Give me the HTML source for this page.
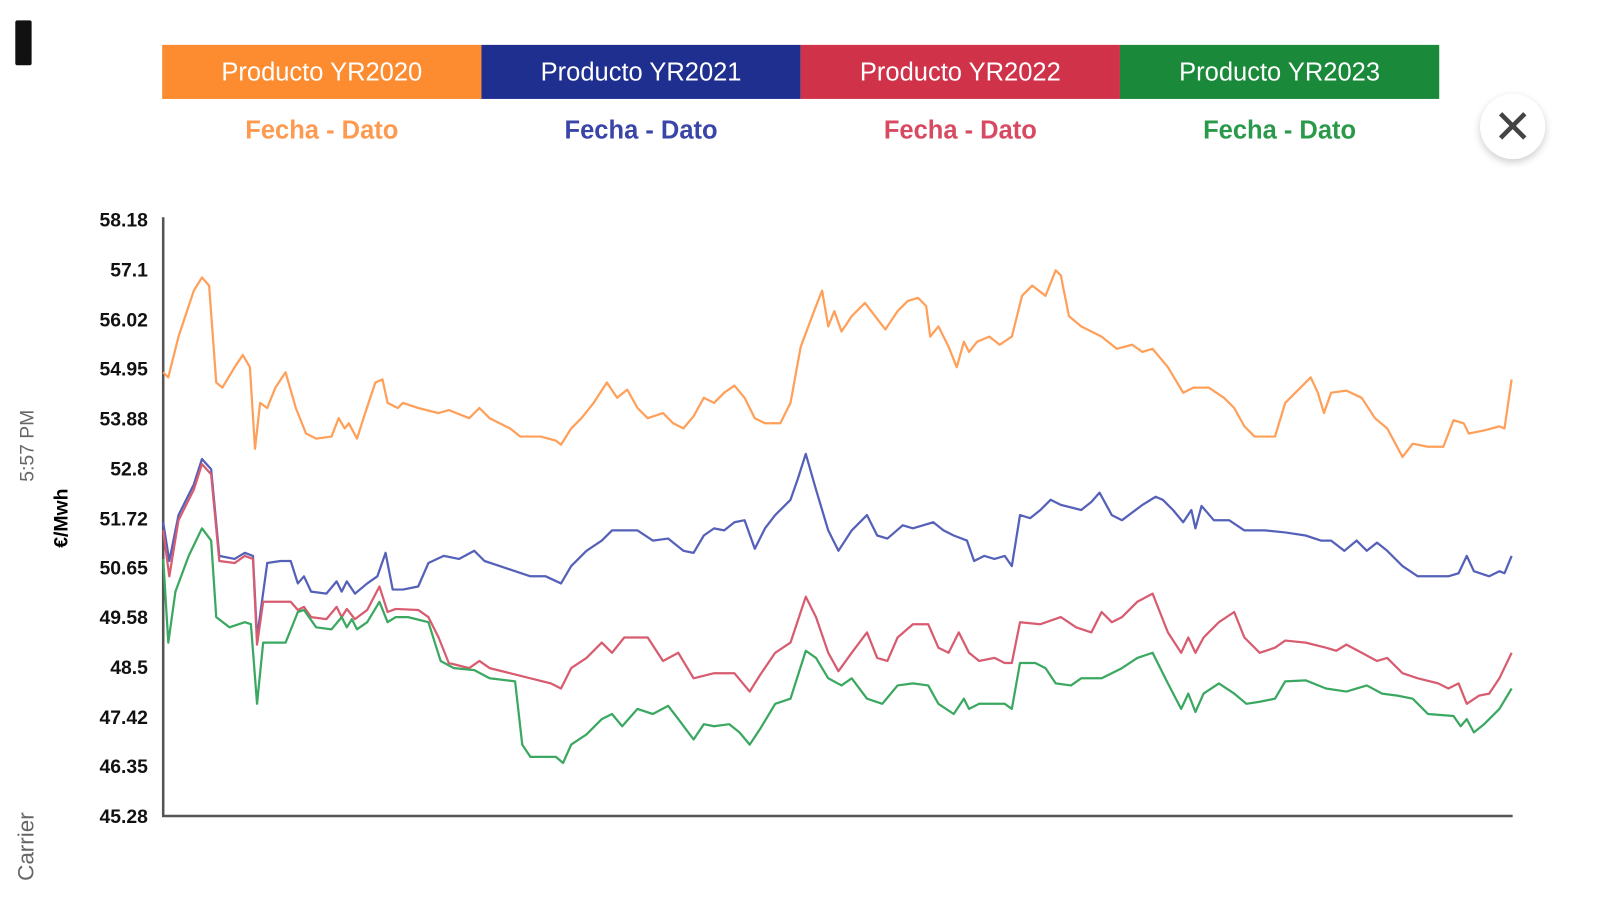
<!DOCTYPE html>
<html><head><meta charset="utf-8"><style>
body{margin:0;width:1599px;height:900px;background:#fff;overflow:hidden;position:relative;font-family:"Liberation Sans",sans-serif}
#w{position:absolute;left:0;top:0;width:1599px;height:900px;transform:scale(1.02);transform-origin:0 0}
.bar{position:absolute;top:44px;height:53px;width:313px;color:#fff;font-size:25px;text-align:center;line-height:55px}
.sub{position:absolute;top:114px;width:313px;text-align:center;font-size:25px;font-weight:bold}
</style></head><body><div id="w">
<div style="position:absolute;left:15px;top:20px;width:16px;height:44px;background:#111;border-radius:2px"></div>
<div class="bar" style="left:159px;background:#fd8c30">Producto YR2020</div>
<div class="bar" style="left:472px;background:#1f2f8f">Producto YR2021</div>
<div class="bar" style="left:785px;background:#d0324a">Producto YR2022</div>
<div class="bar" style="left:1098px;background:#1a8a3a">Producto YR2023</div>
<div class="sub" style="left:159px;color:#fd9a50">Fecha - Dato</div>
<div class="sub" style="left:472px;color:#3a45a8">Fecha - Dato</div>
<div class="sub" style="left:785px;color:#d84a62">Fecha - Dato</div>
<div class="sub" style="left:1098px;color:#2a9a4a">Fecha - Dato</div>
<div style="position:absolute;left:1451px;top:92px;width:64px;height:64px;border-radius:50%;background:#fff;box-shadow:0 3px 8px rgba(0,0,0,.2);text-align:center;line-height:64px;font-size:46px;color:#444">✕</div>
<svg width="1599" height="900" style="position:absolute;left:0;top:0">
<g font-family="Liberation Sans" font-weight="bold" font-size="19" text-anchor="end" fill="#111">
<text x="145" y="222">58.18</text><text x="145" y="271">57.1</text><text x="145" y="320">56.02</text><text x="145" y="368">54.95</text><text x="145" y="417">53.88</text><text x="145" y="466">52.8</text><text x="145" y="515">51.72</text><text x="145" y="563">50.65</text><text x="145" y="612">49.58</text><text x="145" y="661">48.5</text><text x="145" y="710">47.42</text><text x="145" y="758">46.35</text><text x="145" y="807">45.28</text>
</g>
<text transform="translate(66,508) rotate(-90)" font-size="19" font-weight="bold" text-anchor="middle">€/Mwh</text>
<text transform="translate(33,437) rotate(-90)" font-size="19" fill="#666" text-anchor="middle">5:57 PM</text>
<text transform="translate(33,830) rotate(-90)" font-size="22" fill="#666" text-anchor="middle">Carrier</text>
<path d="M160 213V800H1483" fill="none" stroke="#555" stroke-width="2.5"/>
<g fill="none" stroke-width="2.2" stroke-linejoin="round">
<polyline stroke="#ffa05a" points="160,365 165,370 175,330 190,285 198,272 205,280 212,375 218,380 230,360 238,348 245,360 250,440 255,395 262,400 270,380 280,365 290,400 300,425 310,430 325,428 332,410 338,420 342,415 350,430 358,405 368,375 375,372 380,395 390,400 395,395 410,400 430,405 440,402 460,410 470,400 480,410 500,420 510,428 530,428 545,432 550,436 560,420 570,410 582,395 595,375 605,390 615,382 625,400 635,410 650,405 660,415 670,420 680,408 690,390 700,395 710,385 720,378 730,390 740,410 750,415 765,415 775,395 785,340 800,300 806,285 812,320 818,305 825,325 835,310 848,297 858,310 868,323 880,305 890,295 900,292 908,300 912,330 920,320 930,340 938,360 945,335 950,345 958,335 970,330 980,338 992,330 1002,290 1012,280 1025,290 1035,265 1040,270 1048,310 1060,320 1080,330 1095,342 1110,338 1120,345 1130,342 1145,360 1160,385 1170,380 1185,380 1200,390 1210,400 1220,418 1230,428 1250,428 1260,395 1270,385 1285,370 1292,385 1298,405 1305,385 1320,383 1335,390 1348,410 1360,420 1375,448 1385,435 1400,438 1415,438 1425,412 1435,415 1440,425 1455,422 1470,418 1475,420 1482,372"/>
<polyline stroke="#5560b8" points="160,512 166,550 175,505 190,475 198,450 207,460 215,545 230,548 240,542 248,545 252,625 262,552 275,550 285,550 292,572 298,565 305,580 320,582 330,570 335,580 340,570 348,582 360,572 370,565 378,542 385,578 395,578 410,575 420,552 435,545 450,548 465,540 475,550 490,555 505,560 520,565 535,565 550,572 560,555 575,540 590,530 600,520 615,520 625,520 640,530 655,528 670,540 680,542 690,525 700,518 710,520 720,512 730,510 740,538 750,518 760,505 775,490 782,470 790,445 800,480 812,520 822,540 835,520 850,505 860,525 870,528 885,515 895,518 905,515 915,512 925,520 935,525 948,530 955,550 965,545 975,548 985,545 992,555 1000,505 1010,508 1020,500 1030,490 1040,495 1060,500 1070,492 1078,483 1090,505 1100,510 1120,495 1133,487 1140,490 1150,500 1160,512 1168,500 1172,518 1178,496 1190,510 1205,510 1220,520 1240,520 1260,522 1280,525 1295,530 1305,530 1318,540 1330,530 1340,540 1350,532 1360,540 1375,555 1390,565 1420,565 1430,562 1438,545 1445,560 1460,565 1470,560 1475,562 1482,545"/>
<polyline stroke="#d85c70" points="160,520 166,565 175,510 190,480 198,455 207,465 215,550 230,552 240,545 248,548 252,632 258,590 285,590 292,598 298,595 305,605 320,607 330,595 335,605 340,597 348,607 360,598 372,575 380,600 388,597 410,598 420,605 430,625 440,650 460,655 470,648 480,655 500,660 520,665 540,670 550,675 560,655 575,645 590,630 600,640 612,625 635,625 650,648 665,640 680,665 700,660 720,660 735,678 745,662 760,640 775,630 790,585 800,605 812,640 822,658 835,640 850,620 860,645 870,648 880,625 895,612 910,612 920,635 930,640 940,620 950,640 960,648 975,645 985,650 992,650 1000,610 1020,612 1040,605 1055,615 1070,620 1080,600 1090,610 1100,605 1115,590 1130,582 1145,620 1158,640 1165,625 1172,640 1180,625 1195,610 1210,600 1220,625 1235,640 1250,635 1260,628 1280,630 1300,635 1310,638 1320,632 1335,640 1350,648 1360,645 1375,660 1390,665 1410,670 1420,675 1430,670 1438,690 1450,682 1460,680 1470,665 1482,640"/>
<polyline stroke="#3aa860" points="160,548 165,630 172,580 185,545 198,518 207,530 212,605 225,615 240,610 246,612 252,690 258,630 280,630 292,600 298,598 310,615 325,617 335,605 340,615 345,607 350,617 360,610 372,590 380,610 388,605 400,605 420,610 432,648 445,655 465,657 480,665 505,668 512,730 520,742 545,742 552,748 560,730 575,720 590,705 600,700 610,712 625,695 640,700 655,692 665,705 680,725 690,710 700,712 715,710 725,718 735,730 745,715 760,690 775,685 790,638 800,645 812,665 825,672 835,665 850,685 865,690 880,672 895,670 910,672 920,690 935,700 945,685 950,695 960,690 975,690 985,690 992,695 1000,650 1015,650 1025,655 1035,670 1050,672 1060,665 1080,665 1090,660 1100,655 1115,645 1130,640 1145,670 1158,695 1165,680 1172,698 1180,680 1195,670 1210,680 1222,690 1235,688 1250,685 1260,668 1280,667 1300,675 1320,678 1340,672 1355,680 1370,682 1385,685 1400,700 1425,702 1432,712 1438,705 1445,718 1455,710 1470,695 1482,675"/>
</g>
</svg>
</div></body></html>
